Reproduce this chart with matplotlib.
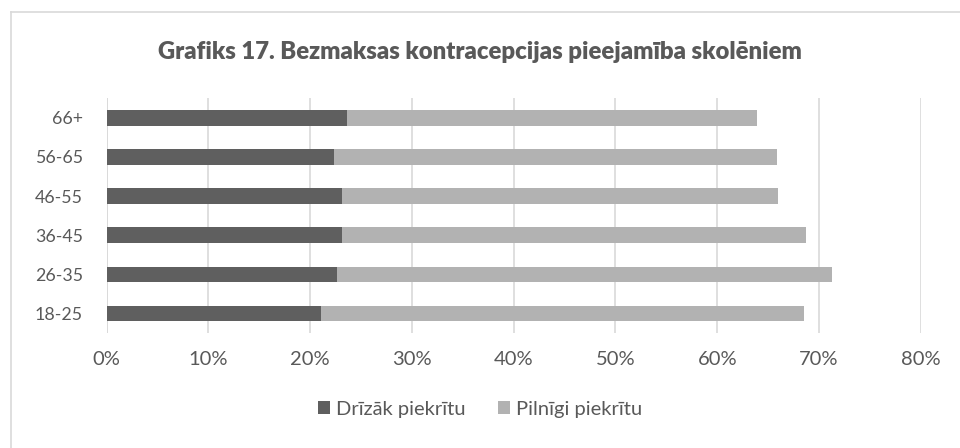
import matplotlib.pyplot as plt
import numpy as np
from matplotlib.lines import Line2D

plt.rcParams['font.family'] = ['Lato', 'DejaVu Sans']

groups = ["18-25", "26-35", "36-45", "46-55", "56-65", "66+"]
drizak = [21.1, 22.6, 23.1, 23.1, 22.3, 23.6]
pilnigi = [47.4, 48.7, 45.6, 42.9, 43.6, 40.3]

dark = "#5f5f5f"
light = "#b2b2b2"
txt = "#595959"

fig = plt.figure(figsize=(9.6, 4.48), dpi=100)
ax = fig.add_axes([106.7 / 960, 1 - 333 / 448, (920.7 - 106.7) / 960, (333 - 98.3) / 448])

y = np.arange(len(groups))
ax.barh(y, drizak, height=0.4, color=dark, label="Drīzāk piekrītu", zorder=3)
ax.barh(y, pilnigi, left=drizak, height=0.4, color=light, label="Pilnīgi piekrītu", zorder=3)

ax.set_xlim(0, 80)
ax.set_ylim(-0.5, len(groups) - 0.5)
ax.set_xticks(range(0, 81, 10))
ax.set_xticklabels([f"{v}%" for v in range(0, 81, 10)])
ax.set_yticks(y)
ax.set_yticklabels(groups)
ax.tick_params(length=0, labelsize=14.5, colors=txt)
ax.tick_params(axis="x", pad=13)
ax.tick_params(axis="y", pad=17, labelsize=12.8)
ax.grid(axis="x", color="#d9d9d9", linewidth=1.2, zorder=0)
for s in ax.spines.values():
    s.set_visible(False)
ax.axvline(0, color="#d9d9d9", linewidth=1.2, zorder=1)

fig.text(0.5, 1 - 52 / 448, "Grafiks 17. Bezmaksas kontracepcijas pieejamība skolēniem",
         ha="center", va="center", fontsize=17.2, fontweight="heavy", color=txt)

handles, labels = ax.get_legend_handles_labels()
fig.legend(handles, labels, loc="center", bbox_to_anchor=(0.5, 1 - 409 / 448), ncol=2,
           frameon=False, fontsize=14.5, labelcolor=txt, handlelength=0.6, handleheight=0.6,
           handletextpad=0.3, columnspacing=1.6)

# chart border
fig.add_artist(Line2D([10.5 / 960, 1], [1 - 12.5 / 448] * 2, color="#d9d9d9", linewidth=1.2))
fig.add_artist(Line2D([10.5 / 960] * 2, [0, 1 - 12.5 / 448], color="#d9d9d9", linewidth=1.2))

fig.savefig("out.png", dpi=100, facecolor="white")
